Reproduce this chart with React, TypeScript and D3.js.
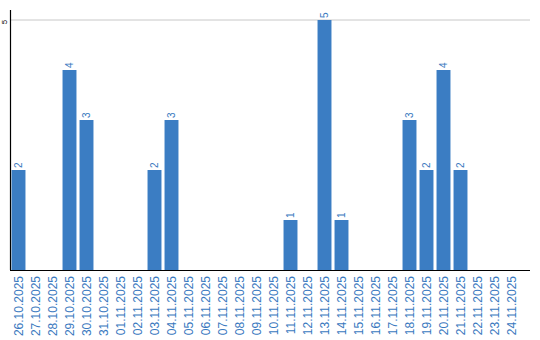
import React from "react";
import * as d3 from "d3";

const categories = [
  "26.10.2025","27.10.2025","28.10.2025","29.10.2025","30.10.2025","31.10.2025",
  "01.11.2025","02.11.2025","03.11.2025","04.11.2025","05.11.2025","06.11.2025",
  "07.11.2025","08.11.2025","09.11.2025","10.11.2025","11.11.2025","12.11.2025",
  "13.11.2025","14.11.2025","15.11.2025","16.11.2025","17.11.2025","18.11.2025",
  "19.11.2025","20.11.2025","21.11.2025","22.11.2025","23.11.2025","24.11.2025",
];
const values = [2,0,0,4,3,0,0,0,2,3,0,0,0,0,0,0,1,0,5,1,0,0,0,3,2,4,2,0,0,0];
const yTicks = [5];

const W = 540, H = 340;
const left = 10, right = 530, top = 10, bottom = 270;
const BLUE = "#3b7dc3";
const TEXT = "#3a79c0";

export default function App() {
  const x = d3.scaleBand<string>().domain(categories).range([left, left + 17 * categories.length]).paddingInner(0.18).paddingOuter(0.09);
  const y = d3.scaleLinear().domain([0, 5]).range([bottom, 20]);
  return (
    <svg width={W} height={H} style={{ position: "absolute", left: 0, top: 0 }} fontFamily="'Liberation Sans', Arial, sans-serif">
      {yTicks.map((t) => (
        <g key={t}>
          <line x1={left} x2={right} y1={y(t)} y2={y(t)} stroke="#c8c8c8" strokeWidth={1} />
          <text transform={`translate(7,${y(t) + 2}) rotate(-90)`} textAnchor="middle" fontSize={8} fill="#000">{t}</text>
        </g>
      ))}
      {categories.map((c, i) => {
        const v = values[i];
        const bx = x(c)!;
        const cx = bx + x.bandwidth() / 2;
        return (
          <g key={c}>
            {v > 0 && (
              <>
                <rect x={bx} y={y(v)} width={x.bandwidth()} height={y(0) - y(v)} fill={BLUE} />
                <text transform={`translate(${cx + 3.8},${y(v) - 2}) rotate(-90)`} fontSize={10} fill={TEXT}>{v}</text>
              </>
            )}
            <text transform={`translate(${cx + 4.3},276) rotate(-90)`} textAnchor="end" fontSize={12} fill={TEXT}>{c}</text>
          </g>
        );
      })}
      <line x1={left + 0.5} x2={left + 0.5} y1={top} y2={bottom} stroke="#000" strokeWidth={1.2} />
      <line x1={left} x2={right} y1={bottom + 0.5} y2={bottom + 0.5} stroke="#000" strokeWidth={1.2} />
    </svg>
  );
}
